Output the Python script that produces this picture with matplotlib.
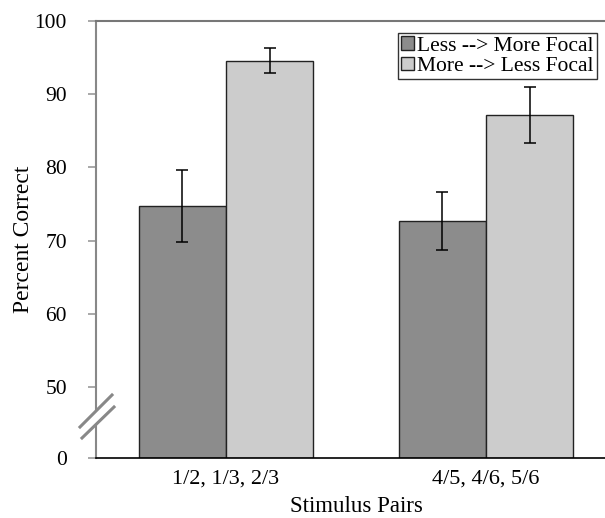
import numpy as np
import matplotlib.pyplot as plt
from matplotlib.patches import Polygon

plt.rcParams['font.family'] = ['Liberation Serif', 'DejaVu Serif']

# data
groups = ['1/2, 1/3, 2/3', '4/5, 4/6, 5/6']
series_names = ['Less --> More Focal', 'More --> Less Focal']
less_more = [74.7, 72.7]
less_more_err = [4.9, 4.0]
more_less = [94.6, 87.2]
more_less_err = [1.7, 3.8]
ytick_vals = [40.3, 50, 60, 70, 80, 90, 100]
ytick_labels = ['0', '50', '60', '70', '80', '90', '100']

fig = plt.figure(figsize=(6.05, 5.18), dpi=100)
ax = fig.add_axes([96/605, 60/518, 520/605, 437/518])

x = np.arange(len(groups))
w = 0.335
bottom = ytick_vals[0]
ekw = dict(ecolor='black', elinewidth=1.1, capsize=4, capthick=1.1)
ax.bar(x - w/2, np.array(less_more) - bottom, w, bottom=bottom, color='#8c8c8c',
       edgecolor='#222222', linewidth=1, yerr=less_more_err, error_kw=ekw,
       label=series_names[0], zorder=2)
ax.bar(x + w/2, np.array(more_less) - bottom, w, bottom=bottom, color='#cccccc',
       edgecolor='#222222', linewidth=1, yerr=more_less_err, error_kw=ekw,
       label=series_names[1], zorder=2)

ax.set_xlim(-0.5, 1.5)
ax.set_ylim(bottom, 100)
ax.set_xticks(x)
ax.set_xticklabels(groups, fontsize=16)
ax.set_yticks(ytick_vals)
ax.set_yticklabels(ytick_labels, fontsize=15.5)
ax.tick_params(axis='x', length=0, pad=8)
ax.tick_params(axis='y', length=6, color='#999999', width=1.2, pad=15)

ax.spines['left'].set_color('#888888')
ax.spines['left'].set_linewidth(1.5)
ax.spines['top'].set_color('#777777')
ax.spines['top'].set_linewidth(1.5)
ax.spines['right'].set_visible(False)
ax.spines['bottom'].set_color('black')
ax.spines['bottom'].set_linewidth(1.2)

ax.set_ylabel('Percent Correct', fontsize=17, labelpad=0)
ax.set_xlabel('Stimulus Pairs', fontsize=16.5, labelpad=6)

# axis break marks (figure pixels -> figure fraction)
def fp(px, py):
    return (px / 605, 1 - py / 518)

gap = Polygon([fp(80, 427), fp(112, 395), fp(114, 407), fp(82, 438)],
              closed=True, transform=fig.transFigure, facecolor='white',
              edgecolor='none', zorder=5)
fig.patches.append(gap)
for (a, b) in [((80, 427), (112, 395)), ((82, 438), (114, 407))]:
    p0, p1 = fp(*a), fp(*b)
    fig.add_artist(plt.Line2D([p0[0], p1[0]], [p0[1], p1[1]],
                              transform=fig.transFigure, color='#888888',
                              linewidth=2.2, zorder=6))

leg = ax.legend(loc='upper left', bbox_to_anchor=(398/605, 1 - 33/518),
                bbox_transform=fig.transFigure, fontsize=15.5, frameon=True,
                fancybox=False, edgecolor='black', handlelength=0.6,
                handleheight=0.6, handletextpad=0.15, borderpad=0.15,
                labelspacing=0.05, borderaxespad=0)
leg.get_frame().set_linewidth(1)

fig.savefig('out.png', dpi=100)
